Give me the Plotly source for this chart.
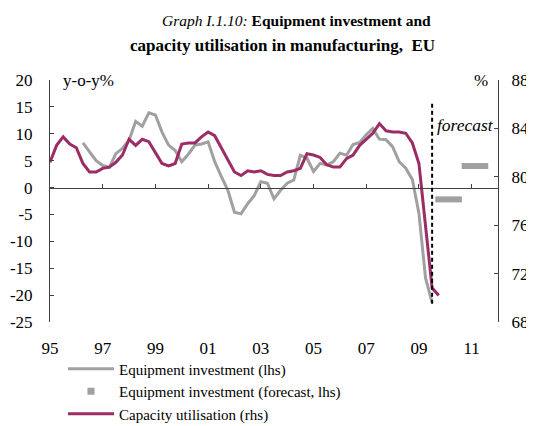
import pandas as pd
import plotly.graph_objects as go

# ---------------- data ----------------
# Capacity utilisation in manufacturing, EU (%, rhs), quarterly 1995Q1-2009Q4
cu_quarters = pd.period_range("1995Q1", "2009Q4", freq="Q")
capacity_utilisation = [
    81.2, 82.6, 83.3, 82.7,
    82.4, 81.1, 80.4, 80.4,
    80.7, 80.8, 81.2, 81.8,
    83.1, 82.6, 83.1, 82.9,
    82.0, 81.1, 80.9, 81.1,
    82.7, 82.8, 82.8, 83.3,
    83.7, 83.4, 82.4, 81.4,
    80.4, 80.1, 80.5, 80.4,
    80.5, 80.2, 80.1, 80.1,
    80.4, 80.5, 80.7, 81.9,
    81.8, 81.6, 81.0, 80.8,
    80.8, 81.5, 81.8, 82.6,
    83.1, 83.6, 84.4, 83.8,
    83.7, 83.7, 83.6, 82.8,
    81.1, 76.0, 70.8, 70.2,
]

# Equipment investment (y-o-y %, lhs), quarterly 1996Q2-2009Q3
ei_quarters = pd.period_range("1996Q2", "2009Q3", freq="Q")
equipment_investment = [
    8.3, 6.6, 5.0,
    4.1, 3.75, 6.3, 7.3,
    8.8, 12.3, 11.4, 13.9,
    13.5, 10.3, 7.9, 6.9,
    4.8, 6.2, 7.9, 8.1,
    8.5, 4.8, 2.1, -0.5,
    -4.6, -4.9, -3.0, -1.5,
    1.1, 0.8, -2.1, -0.5,
    0.8, 1.4, 6.0, 5.5,
    3.0, 4.5, 4.2, 4.8,
    6.4, 6.0, 8.0, 8.4,
    9.8, 11.0, 9.0, 8.9,
    7.6, 4.8, 3.6, 1.5,
    -4.8, -16.8, -21.4,
]

# Equipment investment forecast (annual, lhs)
forecast_years = [2010, 2011]
forecast_values = [-2.2, 4.0]

# axis ticks
x_tick_years = [1995, 1997, 1999, 2001, 2003, 2005, 2007, 2009, 2011]
x_tick_labels = ["95", "97", "99", "01", "03", "05", "07", "09", "11"]
lhs_ticks = [20, 15, 10, 5, 0, -5, -10, -15, -20, -25]
rhs_ticks = [88, 84, 80, 76, 72, 68]
forecast_start = 2009.5


def to_decimal(periods):
    return [p.year + (p.quarter - 1) / 4 for p in periods]


GREY = "#A0A0A0"
PURPLE = "#9B2D64"
AXIS = "#404040"
FONT = "Liberation Serif"

fig = go.Figure()

fig.add_trace(go.Scatter(
    x=to_decimal(ei_quarters), y=equipment_investment, mode="lines",
    name="Equipment investment (lhs)",
    line=dict(color=GREY, width=3), xaxis="x", yaxis="y",
))
# forecast dashes (annual values)
fig.add_trace(go.Scatter(
    x=[y + 0.125 for y in forecast_years], y=forecast_values, mode="markers",
    marker=dict(symbol="line-ew", size=19, line=dict(color=GREY, width=6)),
    showlegend=False, xaxis="x", yaxis="y",
))
fig.add_trace(go.Scatter(
    x=[None], y=[None], mode="markers",
    name="Equipment investment (forecast, lhs)",
    marker=dict(symbol="square", size=7, color=GREY),
    xaxis="x", yaxis="y",
))
fig.add_trace(go.Scatter(
    x=to_decimal(cu_quarters), y=capacity_utilisation, mode="lines",
    name="Capacity utilisation (rhs)",
    line=dict(color=PURPLE, width=3), xaxis="x", yaxis="y2",
))
# helper invisible trace to carry the zero-line axis with ticks
fig.add_trace(go.Scatter(
    x=[1995, 2012], y=[0, 0], mode="lines", line=dict(width=0),
    opacity=0, showlegend=False, hoverinfo="skip", xaxis="x2", yaxis="y",
))

lhs_min, lhs_max = -25, 20
zero_pos = (0 - lhs_min) / (lhs_max - lhs_min)

fig.update_layout(
    width=526, height=418,
    margin=dict(l=42, r=36, t=72, b=104, autoexpand=False),
    paper_bgcolor="white", plot_bgcolor="white",
    font=dict(family=FONT, size=17, color="black"),
    showlegend=True,
    legend=dict(
        x=0.029, y=-0.126, xanchor="left", yanchor="top",
        font=dict(family=FONT, size=15, color="black"),
        bgcolor="rgba(0,0,0,0)", tracegroupgap=0, itemwidth=46,
    ),
    xaxis=dict(
        range=[1995, 2012], tickvals=x_tick_years, ticktext=x_tick_labels,
        showline=False, ticks="", showgrid=False, zeroline=False,
        ticklabelstandoff=14,
    ),
    xaxis2=dict(
        range=[1995, 2012], overlaying="x", anchor="free", position=zero_pos,
        tickvals=x_tick_years, showticklabels=False, ticks="inside", ticklen=4,
        tickcolor=AXIS, showline=True, linecolor=AXIS, linewidth=1,
        showgrid=False, zeroline=False,
    ),
    yaxis=dict(
        range=[lhs_min, lhs_max], tickvals=lhs_ticks,
        ticktext=[str(v) for v in lhs_ticks],
        ticks="inside", ticklen=4, tickcolor=AXIS,
        showline=True, linecolor=AXIS, linewidth=1,
        showgrid=False, zeroline=False, ticklabelstandoff=13,
    ),
    yaxis2=dict(
        range=[68, 88], tickvals=rhs_ticks, overlaying="y", side="right",
        ticks="inside", ticklen=4, tickcolor=AXIS,
        showline=True, linecolor=AXIS, linewidth=1,
        showgrid=False, zeroline=False, ticklabelstandoff=9,
    ),
    shapes=[dict(
        type="line", xref="x", yref="y", x0=forecast_start, x1=forecast_start,
        y0=-21.6, y1=16, line=dict(color="black", width=2, dash="4px,3px"),
    )],
    annotations=[
        dict(text="<i>Graph I.1.10:</i> <b>Equipment investment and</b>",
             xref="paper", yref="paper", x=(433 - 50) / 448, y=1 + 60 / 242.3,
             xanchor="right", yanchor="middle", showarrow=False,
             font=dict(family=FONT, size=15.5)),
        dict(text="<b>capacity utilisation in manufacturing,  EU</b>",
             xref="paper", yref="paper", x=(437 - 50) / 448, y=1 + 35 / 242.3,
             xanchor="right", yanchor="middle", showarrow=False,
             font=dict(family=FONT, size=17)),
        dict(text="y-o-y%", xref="paper", yref="paper", x=(61 - 50) / 448, y=1,
             xanchor="left", yanchor="middle", showarrow=False,
             font=dict(family=FONT, size=17)),
        dict(text="%", xref="paper", yref="paper", x=(490 - 50) / 448, y=1,
             xanchor="right", yanchor="middle", showarrow=False,
             font=dict(family=FONT, size=17)),
        dict(text="<i>forecast</i>", xref="x", yref="y", x=forecast_start, y=11.6,
             xanchor="left", yanchor="middle", xshift=3, showarrow=False,
             font=dict(family=FONT, size=17.5)),
    ],
)

fig.write_html("out.html")
